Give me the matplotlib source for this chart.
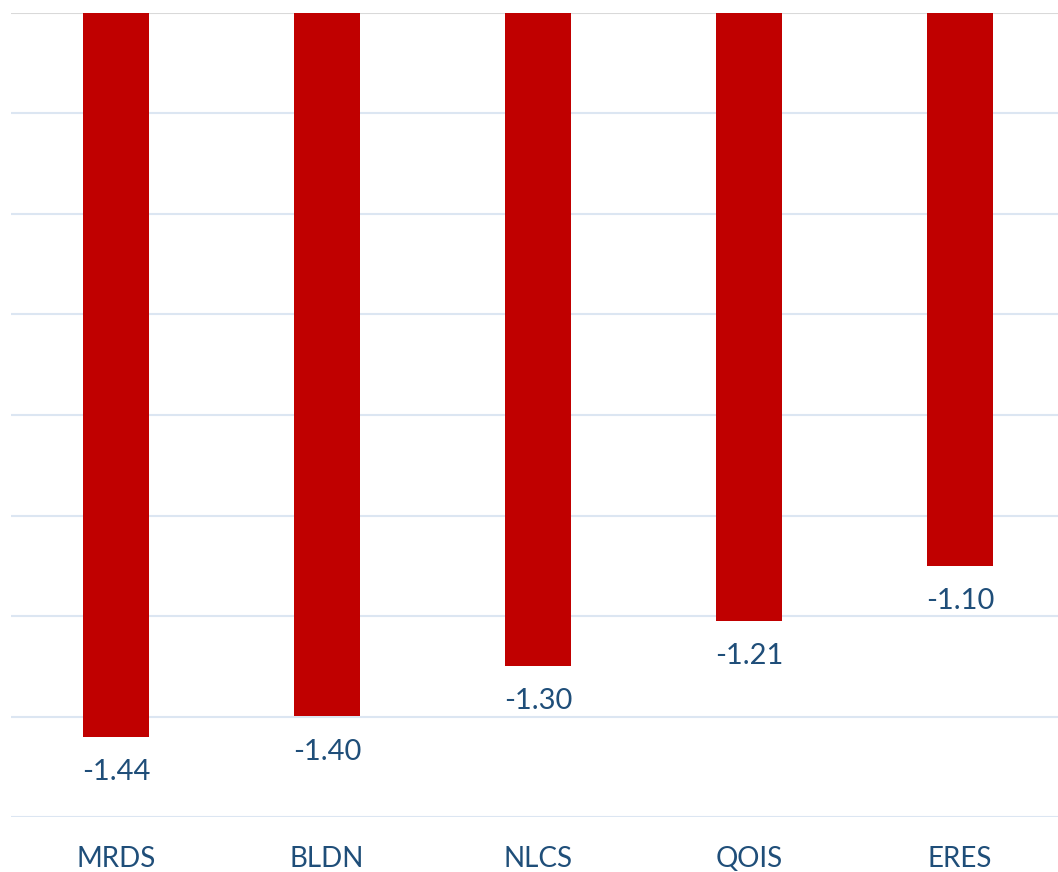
import matplotlib.pyplot as plt

tickers = ['MRDS', 'BLDN', 'NLCS', 'QOIS', 'ERES']
values = [-1.44, -1.40, -1.30, -1.21, -1.10]

text_color = '#1F4E79'
plt.rcParams['font.family'] = ['Lato', 'DejaVu Sans']

fig = plt.figure(figsize=(10.58, 8.72), dpi=100)
ax = fig.add_axes([10.5 / 1058, 55 / 872, 1055 / 1058, 804 / 872])

# gridlines every 0.2
for y in [-0.2 * i for i in range(1, 9)]:
    ax.axhline(y, color='#DCE6F2', linewidth=1.5, zorder=0)
ax.axhline(0, color='#D9D9D9', linewidth=1.5, zorder=0)

x = range(len(tickers))
ax.bar(x, values, width=0.31, color='#C00000', zorder=2)

# value labels under each bar
for i, v in enumerate(values):
    ax.annotate(f'{v:.2f}', (i, v), xytext=(0, -16), textcoords='offset points',
                ha='center', va='top', fontsize=21, color=text_color)

ax.set_xlim(-0.5, 4.5)
ax.set_ylim(-1.6, 0)
ax.set_yticks([])
ax.set_xticks(list(x))
ax.set_xticklabels(tickers, fontsize=20, color=text_color)
ax.tick_params(axis='x', length=0, pad=21)
for s in ax.spines.values():
    s.set_visible(False)

plt.savefig('out.png', dpi=100)
